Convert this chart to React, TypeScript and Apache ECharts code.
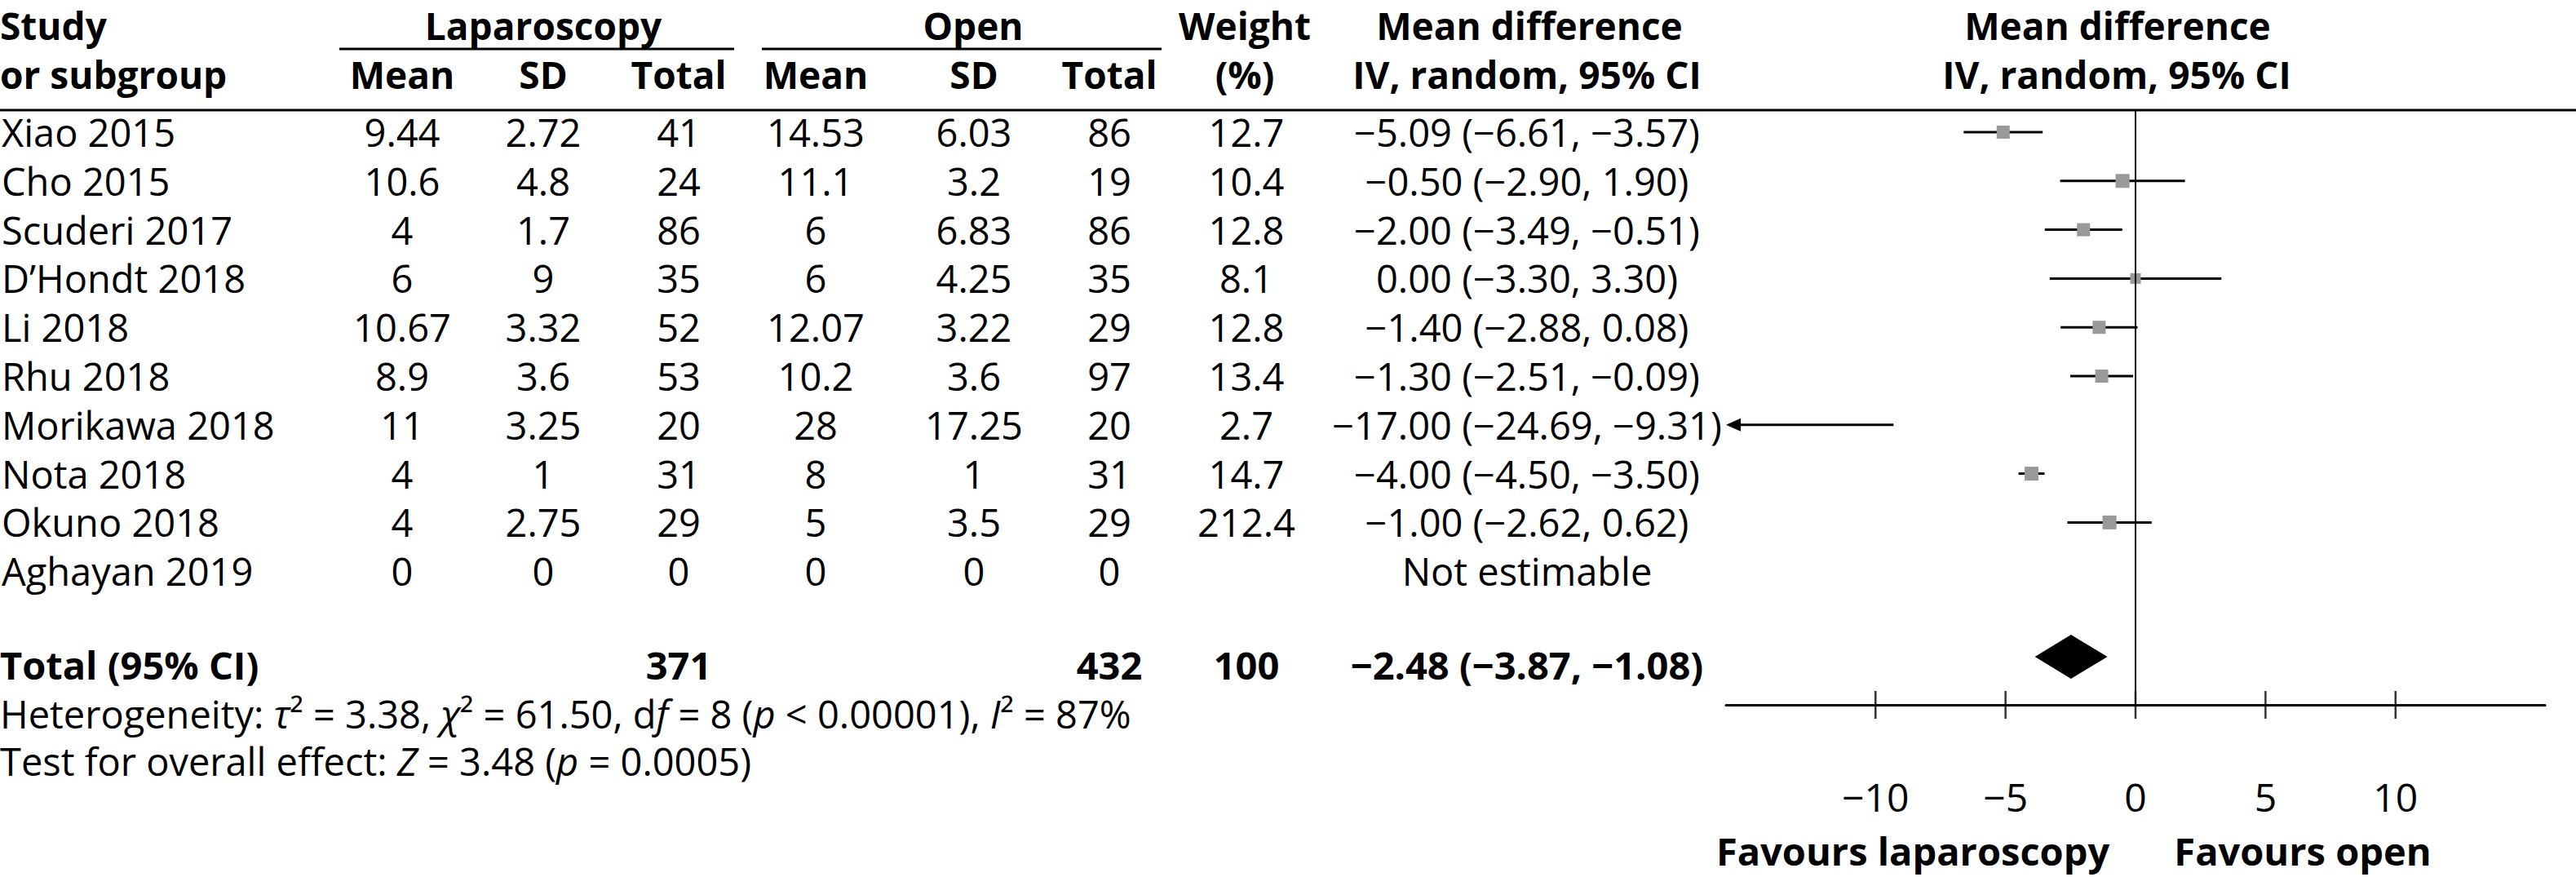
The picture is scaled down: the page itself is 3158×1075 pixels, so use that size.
import React, { useEffect, useRef } from "react";
import * as echarts from "echarts";

const studies = ["Xiao 2015", "Cho 2015", "Scuderi 2017", "D’Hondt 2018", "Li 2018", "Rhu 2018", "Morikawa 2018", "Nota 2018", "Okuno 2018", "Aghayan 2019"];
const lapMean = [9.44, 10.6, 4, 6, 10.67, 8.9, 11, 4, 4, 0];
const lapSD = [2.72, 4.8, 1.7, 9, 3.32, 3.6, 3.25, 1, 2.75, 0];
const lapTotal = [41, 24, 86, 35, 52, 53, 20, 31, 29, 0];
const openMean = [14.53, 11.1, 6, 6, 12.07, 10.2, 28, 8, 5, 0];
const openSD = [6.03, 3.2, 6.83, 4.25, 3.22, 3.6, 17.25, 1, 3.5, 0];
const openTotal = [86, 19, 86, 35, 29, 97, 20, 31, 29, 0];
const weights = [12.7, 10.4, 12.8, 8.1, 12.8, 13.4, 2.7, 14.7, 212.4, null];
const md = [-5.09, -0.5, -2.0, 0.0, -1.4, -1.3, -17.0, -4.0, -1.0, null];
const ciLow = [-6.61, -2.9, -3.49, -3.3, -2.88, -2.51, -24.69, -4.5, -2.62, null];
const ciHigh = [-3.57, 1.9, -0.51, 3.3, 0.08, -0.09, -9.31, -3.5, 0.62, null];
const squareSizes = [16, 17, 16, 13, 16, 16, 0, 17, 17, 0];
const totalLap = 371;
const totalOpen = 432;
const totalWeight = 100;
const pooled = [-2.48, -3.87, -1.08];
const tickValues = [-10, -5, 0, 5, 10];
const xMin = -15.75;
const xMax = 15.75;

const FONT = "Open Sans";
const FS_B = 46;
const FS_R = 47;
const ROW_TOP = 162;
const ROW_STEP = 59.8;
const rowPx = (i: number) => ROW_TOP + ROW_STEP * i;

const minus = (v: number) => (v < 0 ? "\u2212" : "") + Math.abs(v).toFixed(2);
const ciText = (m: number, l: number, h: number) => `${minus(m)} (${minus(l)}, ${minus(h)})`;

function txt(text: string, x: number, y: number, align: string, bold = false, extra: any = {}, size?: number) {
  const fs = size ?? (bold ? FS_B : FS_R);
  return {
    type: "text",
    x,
    y,
    style: {
      text,
      fill: "#000",
      fontSize: fs,
      fontFamily: FONT,
      fontWeight: bold ? "bold" : "normal",
      lineHeight: fs,
      align,
      textAlign: align,
      verticalAlign: "middle",
      textVerticalAlign: "middle",
      ...extra,
    },
  };
}

function hline(x1: number, x2: number, y: number, w = 3) {
  return { type: "line", shape: { x1, y1: y, x2, y2: y }, style: { stroke: "#000", lineWidth: w } };
}

export default function App() {
  const ref = useRef<HTMLDivElement>(null);
  useEffect(() => {
    if (!ref.current) return;
    const chart = echarts.init(ref.current, null, { renderer: "svg" });

    const cols = { lapMean: 493, lapSD: 666, lapTotal: 832, openMean: 1000, openSD: 1194, openTotal: 1360, weight: 1528, ci: 1872 };
    const H1 = 31;
    const H2 = 91;
    const g: any[] = [];
    g.push(txt("Study", 0, H1, "left", true));
    g.push(txt("or subgroup", 0, H2, "left", true));
    g.push(txt("Laparoscopy", 666, H1, "center", true));
    g.push(txt("Open", 1193, H1, "center", true));
    g.push(txt("Weight", 1526, H1, "center", true));
    g.push(txt("(%)", 1526, H2, "center", true));
    g.push(txt("Mean difference", 1875, H1, "center", true));
    g.push(txt("IV, random, 95% CI", 1872, H2, "center", true));
    g.push(txt("Mean difference", 2596, H1, "center", true));
    g.push(txt("IV, random, 95% CI", 2595, H2, "center", true));
    g.push(txt("Mean", cols.lapMean, H2, "center", true));
    g.push(txt("SD", cols.lapSD, H2, "center", true));
    g.push(txt("Total", cols.lapTotal, H2, "center", true));
    g.push(txt("Mean", cols.openMean, H2, "center", true));
    g.push(txt("SD", cols.openSD, H2, "center", true));
    g.push(txt("Total", cols.openTotal, H2, "center", true));
    g.push(hline(416, 900, 60));
    g.push(hline(934, 1424, 60));
    g.push(hline(0, 3158, 135));

    studies.forEach((s, i) => {
      const y = rowPx(i);
      g.push(txt(s, 2, y, "left"));
      g.push(txt(String(lapMean[i]), cols.lapMean, y, "center"));
      g.push(txt(String(lapSD[i]), cols.lapSD, y, "center"));
      g.push(txt(String(lapTotal[i]), cols.lapTotal, y, "center"));
      g.push(txt(String(openMean[i]), cols.openMean, y, "center"));
      g.push(txt(String(openSD[i]), cols.openSD, y, "center"));
      g.push(txt(String(openTotal[i]), cols.openTotal, y, "center"));
      if (weights[i] != null) g.push(txt(String(weights[i]), cols.weight, y, "center"));
      const m = md[i];
      if (m != null) g.push(txt(ciText(m, ciLow[i] as number, ciHigh[i] as number), cols.ci, y, "center"));
      else g.push(txt("Not estimable", cols.ci, y, "center"));
    });

    const yTot = 815;
    g.push(txt("Total (95% CI)", 0, yTot, "left", true, {}, 47));
    g.push(txt(String(totalLap), cols.lapTotal, yTot, "center", true, {}, 47));
    g.push(txt(String(totalOpen), cols.openTotal, yTot, "center", true, {}, 47));
    g.push(txt(String(totalWeight), cols.weight, yTot, "center", true, {}, 47));
    g.push(txt(ciText(pooled[0], pooled[1], pooled[2]), cols.ci, yTot, "center", true, {}, 47));

    const rich = { it: { fontStyle: "italic", fontSize: FS_R, fontFamily: FONT, lineHeight: FS_R } };
    g.push(txt("Heterogeneity: {it|τ}² = 3.38, {it|χ}² = 61.50, d{it|f} = 8 ({it|p} < 0.00001), {it|I}² = 87%", 0, 875, "left", false, { rich }));
    g.push(txt("Test for overall effect: {it|Z} = 3.48 ({it|p} = 0.0005)", 0, 933, "left", false, { rich }));
    g.push(txt("Favours laparoscopy", 2345, 1043, "center", true, {}, 47));
    g.push(txt("Favours open", 2823, 1043, "center", true, {}, 47));

    const yMin = (135 - ROW_TOP) / ROW_STEP;
    const yMax = (864 - ROW_TOP) / ROW_STEP;
    const totalRow = (805 - ROW_TOP) / ROW_STEP;

    const whiskerData: any[] = [];
    const squareData: any[] = [];
    studies.forEach((_, i) => {
      if (md[i] == null) return;
      whiskerData.push([i, ciLow[i], ciHigh[i]]);
      if (squareSizes[i] > 0) squareData.push([md[i], i, squareSizes[i]]);
    });

    const option: any = {
      animation: false,
      grid: { left: 2116, right: 38, top: 135, bottom: 1075 - 864, containLabel: false },
      xAxis: {
        type: "value",
        min: xMin,
        max: xMax,
        axisLine: { show: true, onZero: false, lineStyle: { color: "#000", width: 3 } },
        axisTick: { show: false },
        splitLine: { show: false },
        axisLabel: {
          customValues: tickValues,
          color: "#000",
          fontSize: 48,
          fontFamily: FONT,
          margin: 88,
          formatter: (v: number) => (v < 0 ? "\u2212" + Math.abs(v) : String(v)),
        },
      },
      yAxis: {
        type: "value",
        min: yMin,
        max: yMax,
        inverse: true,
        show: false,
      },
      graphic: g,
      series: [
        {
          type: "custom",
          clip: false,
          data: whiskerData,
          encode: { x: [1, 2], y: 0 },
          renderItem: (params: any, api: any) => {
            const i = api.value(0);
            const lo = api.value(1);
            const hi = api.value(2);
            const left = api.coord([Math.max(lo, xMin), i]);
            const right = api.coord([Math.min(hi, xMax), i]);
            const children: any[] = [];
            if (lo < xMin) {
              children.push({ type: "line", shape: { x1: left[0] + 12, y1: left[1], x2: right[0], y2: right[1] }, style: { stroke: "#000", lineWidth: 3 } });
              children.push({ type: "polygon", shape: { points: [[left[0], left[1]], [left[0] + 18, left[1] - 8], [left[0] + 18, left[1] + 8]] }, style: { fill: "#000" } });
            } else {
              children.push({ type: "line", shape: { x1: left[0], y1: left[1], x2: right[0], y2: right[1] }, style: { stroke: "#000", lineWidth: 3 } });
            }
            return { type: "group", children };
          },
          z: 2,
          markLine: {
            silent: true,
            symbol: "none",
            label: { show: false },
            lineStyle: { color: "#000", width: 2, type: "solid" },
            data: [{ xAxis: 0 }],
          },
        },
        {
          type: "scatter",
          data: squareData,
          symbol: "rect",
          symbolSize: (v: any) => v[2],
          itemStyle: { color: "#999999", opacity: 1 },
          z: 3,
        },
        {
          type: "custom",
          clip: false,
          data: [[totalRow, pooled[0], pooled[1], pooled[2]]],
          encode: { x: [1, 2, 3], y: 0 },
          renderItem: (params: any, api: any) => {
            const r = api.value(0);
            const c = api.coord([api.value(1), r]);
            const l = api.coord([api.value(2), r]);
            const h = api.coord([api.value(3), r]);
            return {
              type: "polygon",
              shape: { points: [[l[0], c[1]], [c[0], c[1] - 27], [h[0], c[1]], [c[0], c[1] + 27]] },
              style: { fill: "#000" },
            };
          },
          z: 3,
        },
        {
          type: "scatter",
          clip: false,
          data: tickValues.map((t) => [t, yMax]),
          symbol: "rect",
          symbolSize: [2.5, 34],
          itemStyle: { color: "#000" },
          z: 4,
        },
      ],
    };
    chart.setOption(option);
    return () => chart.dispose();
  }, []);
  return <div ref={ref} style={{ position: "absolute", left: 0, top: 0, width: 3158, height: 1075, background: "#fff" }} />;
}
